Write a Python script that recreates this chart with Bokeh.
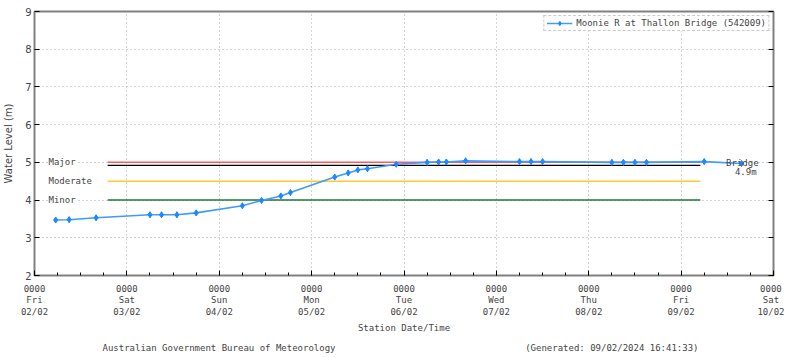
from bokeh.plotting import figure
from bokeh.models import (FixedTicker, Label, LinearAxis, Range1d, Legend, LegendItem, Title)
from bokeh.embed import file_html
from bokeh.resources import INLINE

# ---- data (hours since Fri 02/02 00:00, water level in m) ----
hours = [5.5, 9, 16, 30, 33, 37, 42, 54, 59, 64, 66.5, 78, 81.5, 84, 86.5, 94,
         102, 105, 107, 112, 126, 129, 132, 150, 153, 156, 159, 174, 183.7]
levels = [3.47, 3.48, 3.53, 3.61, 3.61, 3.61, 3.66, 3.85, 3.99, 4.11, 4.20, 4.61,
          4.72, 4.80, 4.83, 4.95, 5.00, 5.01, 5.01, 5.04, 5.02, 5.02, 5.02, 5.00,
          5.00, 5.00, 5.00, 5.02, 4.97]

thr_names = ["Major", "Moderate", "Minor"]
thr_levels = [5.0, 4.5, 4.0]
thr_colors = ["#ff5a5a", "#ffc933", "#1f7a3a"]
thr_start = 19
thr_end = 173
bridge_level = 4.92
bridge_label = "Bridge"
bridge_value = "4.9m"

day_ticks = [0, 24, 48, 72, 96, 120, 144, 168, 192]
day_labels = ["0000\nFri\n02/02", "0000\nSat\n03/02", "0000\nSun\n04/02", "0000\nMon\n05/02",
              "0000\nTue\n06/02", "0000\nWed\n07/02", "0000\nThu\n08/02", "0000\nFri\n09/02",
              "0000\nSat\n10/02"]
minor_ticks = list(range(0, 193, 6))
y_ticks = [2, 3, 4, 5, 6, 7, 8, 9]

footer_left = "Australian Government Bureau of Meteorology"
footer_right = "(Generated: 09/02/2024 16:41:33)"

MONO = "DejaVu Sans Mono"
FS = "9px"

p = figure(width=784, height=358, output_backend="svg", toolbar_location=None,
           x_range=Range1d(0, 192), y_range=Range1d(2, 9),
           min_border_left=31, min_border_right=11, min_border_top=11, min_border_bottom=83)
p.outline_line_color = "#808080"
p.outline_line_width = 2

# axes
xa = p.xaxis[0]
xa.ticker = FixedTicker(ticks=day_ticks, minor_ticks=minor_ticks)
xa.major_label_overrides = {t: l for t, l in zip(day_ticks, day_labels)}
xa.major_label_text_font = MONO
xa.major_label_text_font_size = FS
xa.major_label_text_line_height = 1.15
xa.axis_label = "Station Date/Time"
xa.axis_label_text_font = MONO
xa.axis_label_text_font_size = FS
xa.axis_label_text_font_style = "normal"
xa.axis_label_standoff = 3
xa.axis_line_color = None
xa.major_tick_in = 5
xa.major_tick_out = 0
xa.minor_tick_in = 3
xa.minor_tick_out = 0
xa.major_label_standoff = 8

ya = p.yaxis[0]
ya.ticker = FixedTicker(ticks=y_ticks)
ya.major_label_text_font = "DejaVu Sans"
ya.major_label_text_font_size = "10px"
ya.axis_label = "Water Level (m)"
ya.axis_label_text_font = "DejaVu Sans"
ya.axis_label_text_font_size = "10px"
ya.axis_label_text_font_style = "normal"
ya.axis_label_standoff = 8
ya.axis_line_color = None
ya.major_tick_in = 5
ya.major_tick_out = 0
ya.minor_tick_line_color = None
ya.major_label_standoff = 3

ra = LinearAxis(ticker=FixedTicker(ticks=y_ticks),
                major_label_overrides={t: "" for t in y_ticks},
                axis_line_color=None, major_tick_in=5, major_tick_out=0,
                minor_tick_line_color=None, major_label_standoff=0)
p.add_layout(ra, "right")

for g in (p.xgrid[0], p.ygrid[0]):
    g.grid_line_color = "#a8a8a8"
    g.grid_line_dash = "1 3"
p.xgrid[0].ticker = FixedTicker(ticks=day_ticks)
p.ygrid[0].ticker = FixedTicker(ticks=y_ticks)

# thresholds
for name, lev, col in zip(thr_names, thr_levels, thr_colors):
    p.line([thr_start, thr_end], [lev, lev], line_color=col, line_width=1.5)
    p.add_layout(Label(x=0, y=lev, x_offset=14, text=name, text_font=MONO,
                       text_font_size=FS, text_baseline="middle",
                       background_fill_color="white"))
p.line([thr_start, thr_end], [bridge_level, bridge_level], line_color="black", line_width=1.2)
p.add_layout(Label(x=hours[-1], y=bridge_level, x_offset=17, y_offset=2, text=bridge_label,
                   text_font=MONO, text_font_size=FS, text_align="right",
                   text_baseline="middle"))
p.add_layout(Label(x=hours[-1], y=bridge_level, x_offset=15, y_offset=-7, text=bridge_value,
                   text_font=MONO, text_font_size=FS, text_align="right",
                   text_baseline="middle"))

# series
ln = p.line(hours, levels, line_color="#3d9bff", line_width=1.6)
mk = p.scatter(hours, levels, marker="diamond_cross", size=6, line_color="#1e88ff",
               fill_color="#1e88ff")

leg = Legend(items=[LegendItem(label="Moonie R at Thallon Bridge (542009)", renderers=[ln, mk])],
             location="top_right", label_text_font=MONO, label_text_font_size=FS,
             border_line_color="#999999", border_line_dash="2 2", border_line_width=1,
             background_fill_alpha=1, padding=2, margin=4, spacing=0,
             glyph_height=10, glyph_width=26, label_height=10, label_standoff=4)
p.add_layout(leg)

# footer as a title below the x axis
gap = "\u00a0" * 35
p.add_layout(Title(text=footer_left + gap + footer_right, align="left", offset=68,
                   text_font=MONO, text_font_size=FS, text_font_style="normal",
                   standoff=10), "below")

open("out.html", "w").write(file_html(p, INLINE))
